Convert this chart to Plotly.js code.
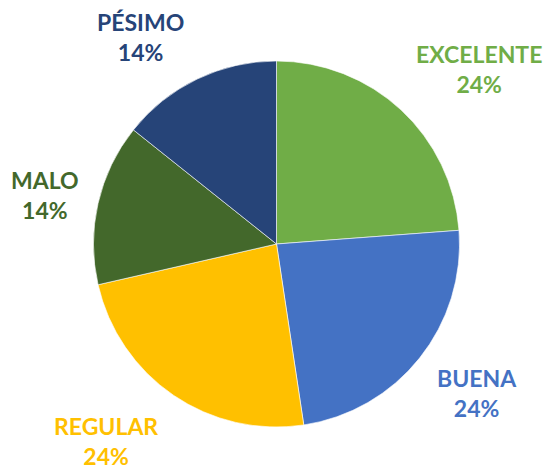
<!DOCTYPE html>
<html>
<head>
<meta charset="utf-8">
<script src="https://cdn.plot.ly/plotly-3.0.1.min.js"></script>
<style>html,body{margin:0;padding:0;background:#fff;}#chart{width:544px;height:470px;}</style>
</head>
<body>
<div id="chart"></div>
<script>
const categories = ["EXCELENTE", "BUENA", "REGULAR", "MALO", "PÉSIMO"];
const values = [5, 5, 5, 3, 3];
const colors = ["#70AD47", "#4472C4", "#FFC000", "#43682B", "#264478"];

const total = values.reduce((a, b) => a + b, 0);
const percentLabels = values.map(v => Math.round(v / total * 100) + "%");

// label block centres (pixels) for the outside data labels
const labelPos = [[479, 69], [477, 393], [106, 441], [45, 195], [140, 37]];

const W = 544, H = 470;
const annotations = categories.map((c, i) => ({
  xref: "paper", yref: "paper",
  x: labelPos[i][0] / W, y: 1 - labelPos[i][1] / H,
  xanchor: "center", yanchor: "middle",
  text: c + "<br>" + percentLabels[i],
  showarrow: false,
  align: "center",
  font: {family: "Lato, 'Open Sans', sans-serif", size: 23, color: colors[i], weight: "bold"}
}));

const cx = 276.5, cy = 244, r = 183;
const data = [{
  type: "pie",
  labels: categories,
  values: values,
  sort: false,
  direction: "clockwise",
  rotation: 0,
  textinfo: "none",
  hoverinfo: "label+percent",
  marker: {colors: colors, line: {color: "rgba(255,255,255,0.8)", width: 0.75}},
  domain: {x: [(cx - r) / W, (cx + r) / W], y: [1 - (cy + r) / H, 1 - (cy - r) / H]},
  showlegend: false
}];

const layout = {
  width: W, height: H,
  margin: {l: 0, r: 0, t: 0, b: 0},
  paper_bgcolor: "#ffffff",
  plot_bgcolor: "#ffffff",
  showlegend: false,
  annotations: annotations
};

Plotly.newPlot("chart", data, layout, {displayModeBar: false, staticPlot: true});
</script>
</body>
</html>
